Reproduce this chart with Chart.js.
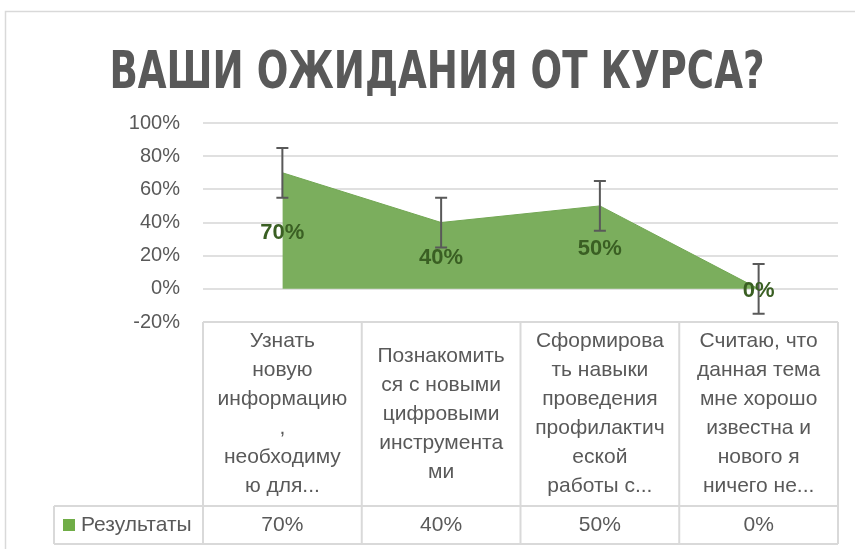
<!DOCTYPE html>
<html>
<head>
<meta charset="utf-8">
<script src="https://cdn.jsdelivr.net/npm/chart.js@4"></script>
<style>
  html, body { margin: 0; padding: 0; background: #fff; }
  #wrap { width: 855px; height: 549px; }
</style>
</head>
<body>
<div id="wrap"><canvas id="expChart" width="855" height="549"></canvas></div>
<script>
// chart data
const titleText = 'ВАШИ ОЖИДАНИЯ ОТ КУРСА?';
const seriesName = 'Результаты';
const categories = [
    ['Узнать', 'новую', 'информацию', ',', 'необходиму', 'ю для...'],
    ['Познакомить', 'ся с новыми', 'цифровыми', 'инструмента', 'ми'],
    ['Сформирова', 'ть навыки', 'проведения', 'профилактич', 'еской', 'работы с...'],
    ['Считаю, что', 'данная тема', 'мне хорошо', 'известна и', 'нового я', 'ничего не...']
];
const values = [70, 40, 50, 0];
const errors = [15, 15, 15, 15];
const yMin = -20, yMax = 100, yStep = 20;

const textFont = "'Liberation Sans', 'DejaVu Sans', sans-serif";
const gray = '#595959';
const lineGray = '#d9d9d9';
const green = '#70AD47';

// outer frame + title (narrow bold, squeezed to the width of the original)
const framePlugin = {
    id: 'frame',
    beforeDraw(chart) {
        const ctx = chart.ctx;
        ctx.save();
        ctx.fillStyle = '#fff';
        ctx.fillRect(0, 0, chart.width, chart.height);
        ctx.strokeStyle = lineGray;
        ctx.lineWidth = 1.5;
        ctx.strokeRect(5.5, 11.5, chart.width + 20, chart.height + 20);

        ctx.font = "bold 51px 'DejaVu Sans Condensed', 'DejaVu Sans', sans-serif";
        const w = ctx.measureText(titleText).width;
        ctx.translate(437, 88);
        ctx.scale(655 / w, 1);
        ctx.fillStyle = gray;
        ctx.textAlign = 'center';
        ctx.textBaseline = 'alphabetic';
        ctx.fillText(titleText, 0, 0);
        ctx.restore();
    }
};

// error bars + value labels
const marksPlugin = {
    id: 'marks',
    afterDatasetsDraw(chart) {
        const { ctx, scales: { x, y } } = chart;
        ctx.save();
        ctx.strokeStyle = gray;
        ctx.lineWidth = 2;
        values.forEach((v, i) => {
            const px = x.getPixelForValue(i);
            const top = y.getPixelForValue(v + errors[i]);
            const bot = y.getPixelForValue(v - errors[i]);
            ctx.beginPath();
            ctx.moveTo(px, top); ctx.lineTo(px, bot);
            ctx.moveTo(px - 6, top); ctx.lineTo(px + 6, top);
            ctx.moveTo(px - 6, bot); ctx.lineTo(px + 6, bot);
            ctx.stroke();
        });
        ctx.fillStyle = '#3a5f23';
        ctx.font = 'bold 22px ' + textFont;
        ctx.textAlign = 'center';
        ctx.textBaseline = 'middle';
        values.forEach((v, i) => {
            ctx.fillText(v + '%', x.getPixelForValue(i), y.getPixelForValue(v / 2) + 2);
        });
        ctx.restore();
    }
};

// data table under the plot
const tablePlugin = {
    id: 'dataTable',
    afterDraw(chart) {
        const { ctx, chartArea, scales: { x } } = chart;
        const colW = (chartArea.right - chartArea.left) / categories.length;
        const top = chartArea.bottom;
        const mid = 506, bottom = 544, legLeft = 54;
        ctx.save();
        ctx.strokeStyle = lineGray;
        ctx.lineWidth = 2;
        ctx.beginPath();
        ctx.moveTo(chartArea.left, top); ctx.lineTo(chartArea.right, top);
        ctx.moveTo(legLeft, mid); ctx.lineTo(chartArea.right, mid);
        ctx.moveTo(legLeft, bottom); ctx.lineTo(chartArea.right, bottom);
        ctx.moveTo(legLeft, mid); ctx.lineTo(legLeft, bottom);
        for (let i = 0; i <= categories.length; i++) {
            const lx = chartArea.left + i * colW;
            ctx.moveTo(lx, top); ctx.lineTo(lx, bottom);
        }
        ctx.stroke();

        ctx.fillStyle = gray;
        ctx.font = '21px ' + textFont;
        ctx.textAlign = 'center';
        ctx.textBaseline = 'middle';
        const lh = 29;
        const hc = (top + mid) / 2;
        categories.forEach((lines, i) => {
            const cx = x.getPixelForValue(i);
            const first = hc - (lines.length - 1) / 2 * lh;
            lines.forEach((t, j) => ctx.fillText(t, cx, first + j * lh));
            ctx.fillText(values[i] + '%', cx, (mid + bottom) / 2);
        });

        ctx.fillStyle = green;
        ctx.fillRect(63, 519, 12, 12);
        ctx.fillStyle = gray;
        ctx.textAlign = 'left';
        ctx.fillText(seriesName, 81, (mid + bottom) / 2);
        ctx.restore();
    }
};

const ctx = document.getElementById('expChart').getContext('2d');
new Chart(ctx, {
    type: 'line',
    data: {
        labels: categories,
        datasets: [{
            label: seriesName,
            data: values,
            fill: 'origin',
            backgroundColor: '#7bae5d',
            borderColor: '#72a753',
            borderWidth: 1,
            pointRadius: 0,
            tension: 0
        }]
    },
    options: {
        responsive: false,
        animation: false,
        layout: {
            padding: { top: 123, left: 5, right: 17, bottom: 227 }
        },
        plugins: {
            legend: { display: false },
            tooltip: { enabled: false },
            title: { display: false }
        },
        scales: {
            x: {
                type: 'category',
                offset: true,
                display: false
            },
            y: {
                min: yMin,
                max: yMax,
                afterFit(scale) { scale.width = 198; },
                border: { display: false },
                grid: { color: '#e0e0e0', lineWidth: 2, drawTicks: false },
                ticks: {
                    stepSize: yStep,
                    padding: 23,
                    color: gray,
                    font: { family: textFont, size: 20 },
                    callback: v => v + '%'
                }
            }
        }
    },
    plugins: [framePlugin, marksPlugin, tablePlugin]
});
</script>
</body>
</html>
